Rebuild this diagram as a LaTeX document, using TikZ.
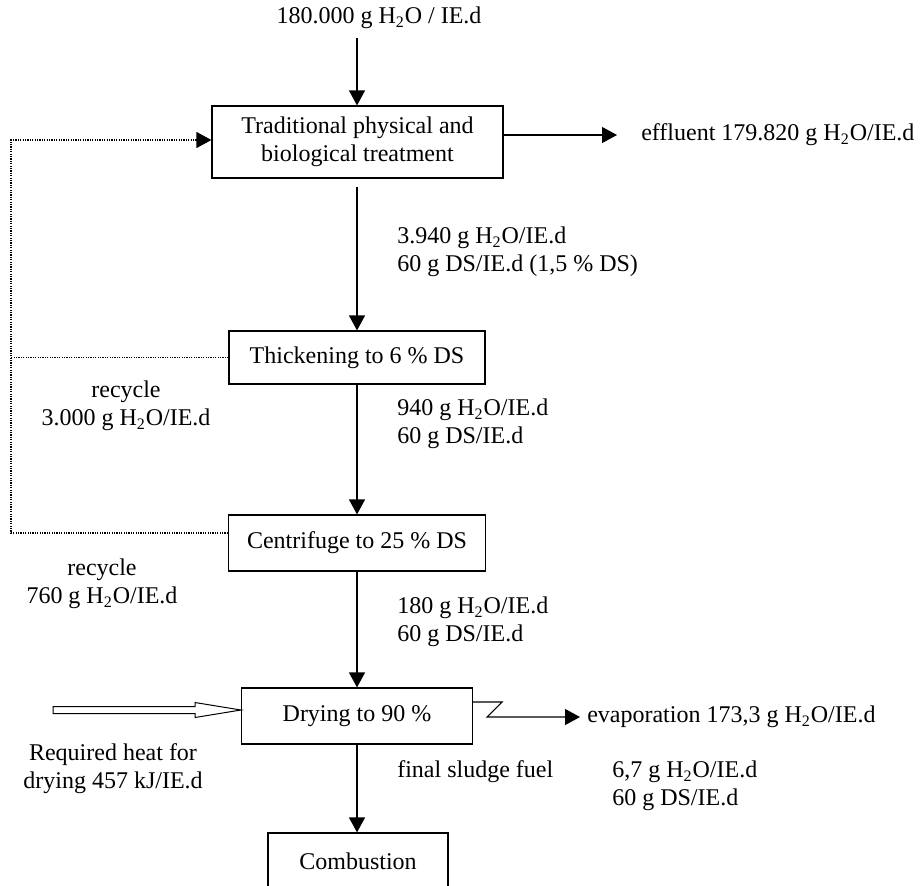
\documentclass[tikz,border=0pt]{standalone}
\usepackage{fontspec}
\setmainfont{Liberation Serif}
\usetikzlibrary{arrows.meta}
\newcommand{\hto}{H\textsubscript{2}O}

\begin{document}
\begin{tikzpicture}[x=0.5pt,y=-0.5pt,line width=0.6pt,
        every node/.style={font=\fontsize{12}{14}\selectfont},
        stage/.style={rectangle,draw,align=center,inner sep=0pt},
        flow/.style={-{Triangle[length=7.5pt,width=8pt]}},
        recyc/.style={dash pattern=on 0.6pt off 0.6pt}]
        \clip (0,0) rectangle (921,885);
        % process boxes
        \node [stage, minimum width=145.5pt, minimum height=36pt] (trad) at (357.5,142) {Traditional physical and\\biological treatment};
        \node [stage, minimum width=128pt, minimum height=26.5pt] (thick) at (357,357.5) {Thickening to 6 \% DS};
        \node [stage, minimum width=128.5pt, minimum height=28pt] (cent) at (357,543) {Centrifuge to 25 \% DS};
        \node [stage, minimum width=115.5pt, minimum height=28pt] (dry) at (357,716) {Drying to 90 \%};
        \node [stage, minimum width=90pt, minimum height=28pt] (comb) at (358,861) {Combustion};
        % flows
        \node (src) at (379,18) {180.000 g \hto{} / IE.d};
        \node [anchor=west] (eff) at (634,135) {effluent 179.820 g \hto/IE.d};
        \node [anchor=west, align=left] (q1) at (390,252) {3.940 g \hto/IE.d\\60 g DS/IE.d (1,5 \% DS)};
        \node [anchor=west, align=left] (q2) at (390,424) {940 g \hto/IE.d\\60 g DS/IE.d};
        \node [anchor=west, align=left] (q3) at (390,622) {180 g \hto/IE.d\\60 g DS/IE.d};
        \node [anchor=west] (fuel) at (390,772) {final sludge fuel};
        \node [anchor=west, align=left] (q4) at (605,786) {6,7 g \hto/IE.d\\60 g DS/IE.d};
        \node [anchor=west] (evap) at (580,717) {evaporation 173,3 g \hto/IE.d};
        \node [align=center] (rec1) at (126,406) {recycle\\3.000 g \hto/IE.d};
        \node [align=center] (rec2) at (102,584) {recycle\\760 g \hto/IE.d};
        \node [align=center] (heattxt) at (113,769) {Required heat for\\drying 457 kJ/IE.d};
        \coordinate (in) at (357,38);
        \coordinate (corner) at (11,140);
        \path [draw] (in) edge [flow] (in |- trad.north);
        \path [draw] (trad.south -| in) edge [flow, shorten <=4pt] (in |- thick.north);
        \path [draw] (thick) edge [flow] (cent);
        \path [draw] (cent) edge [flow] (dry);
        \path [draw] (dry) edge [flow] (dry |- comb.north);
        \draw [flow] ([yshift=3.5pt]trad.east) -- ([xshift=-8.5pt]eff.west);
        \draw [flow] ([yshift=7pt]dry.east) -- ++(29,0) -- ++(-15,15) -- (evap.west);
        % recycle loops
        \draw [recyc, flow] ([yshift=5pt]cent.west) -| (corner) -- (corner -| trad.west);
        \draw [recyc] (thick.west) -- (thick.west -| corner);
        % heat input
        \draw [line width=0.5pt] (53,706.5) -- (195,706.5) -- (195,702.5) -- ([yshift=3pt]dry.west)
            -- (195,717.5) -- (195,713.5) -- (53,713.5) -- cycle;
    \end{tikzpicture}
\end{document}
